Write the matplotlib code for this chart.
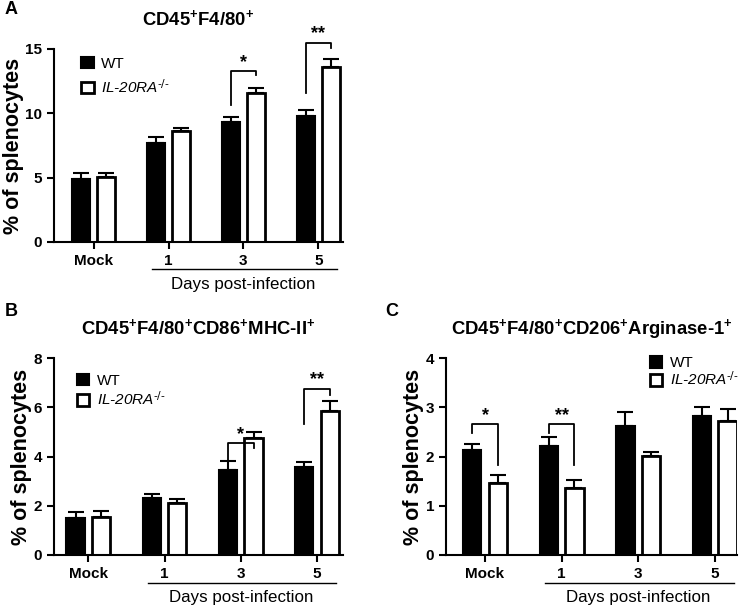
import matplotlib
matplotlib.use('Agg')
import matplotlib.pyplot as plt
import numpy as np

plt.rcParams['font.family'] = ['Liberation Sans', 'DejaVu Sans']
plt.rcParams['mathtext.default'] = 'regular'

categories = ['Mock', '1', '3', '5']

# panel A: CD45+F4/80+
a_wt = [4.9, 7.72, 9.35, 9.76]
a_wt_err = [0.45, 0.46, 0.4, 0.49]
a_ko = [5.06, 8.62, 11.59, 13.63]
a_ko_err = [0.33, 0.26, 0.41, 0.6]

# panel B: CD45+F4/80+CD86+MHC-II+
b_wt = [1.51, 2.3, 3.45, 3.58]
b_wt_err = [0.22, 0.19, 0.35, 0.18]
b_ko = [1.55, 2.12, 4.76, 5.85]
b_ko_err = [0.23, 0.16, 0.25, 0.4]

# panel C: CD45+F4/80+CD206+Arginase-1+
c_wt = [2.13, 2.21, 2.62, 2.83]
c_wt_err = [0.12, 0.19, 0.29, 0.17]
c_ko = [1.47, 1.37, 2.01, 2.72]
c_ko_err = [0.16, 0.15, 0.08, 0.24]

# significance brackets: (category index, top, left end, right end, label)
a_sig = [(2, 13.3, 10.65, 13.0, '*'), (3, 15.5, 11.55, 15.05, '**')]
b_sig = [(2, 4.53, 3.85, 4.33, '*'), (3, 6.76, 5.34, 6.49, '**')]
c_sig = [(0, 2.66, 2.47, 1.83, '*'), (1, 2.66, 2.47, 1.83, '**')]

W, H = 755, 612
BW = 0.24
OFF = 0.167


def panel(rect, wt, wt_err, ko, ko_err, sig, ymax, yticks, xlim, title,
          letter, letter_xy, leg_anchor, leg_spacing):
    l, t, r, b = rect
    ax = plt.gcf().add_axes([l / W, 1 - b / H, (r - l) / W, (b - t) / H])
    x = np.arange(len(categories))
    ax.bar(x - OFF, wt, BW, color='black', edgecolor='black', linewidth=1.5,
           label='WT', zorder=2)
    ax.bar(x + OFF, ko, BW, color='white', edgecolor='black', linewidth=2,
           label=r'IL-20RA$^{\text{-/-}}$', zorder=2)
    ax.errorbar(x - OFF, wt, yerr=[np.zeros(len(wt)), wt_err], fmt='none',
                ecolor='black', elinewidth=1.5, capsize=6, capthick=1.5, zorder=1)
    ax.errorbar(x + OFF, ko, yerr=[np.zeros(len(ko)), ko_err], fmt='none',
                ecolor='black', elinewidth=1.5, capsize=6, capthick=1.5, zorder=1)
    for i, top, yl, yr, lab in sig:
        ax.plot([i - OFF, i - OFF, i + OFF, i + OFF], [yl, top, top, yr],
                color='black', lw=1.3, clip_on=False)
        ax.text(i, top, lab, ha='center', va='bottom', fontsize=13,
                fontweight='bold')
    ax.set_ylim(0, ymax)
    ax.set_yticks(yticks)
    ax.set_xlim(*xlim)
    ax.set_xticks(x)
    ax.set_xticklabels(categories, fontweight='bold', fontsize=11)
    for lbl in ax.get_yticklabels():
        lbl.set_fontweight('bold')
        lbl.set_fontsize(11)
    ax.spines['top'].set_visible(False)
    ax.spines['right'].set_visible(False)
    ax.spines['left'].set_linewidth(1.5)
    ax.spines['bottom'].set_linewidth(1.5)
    ax.tick_params(width=1.5, length=5)
    ax.set_ylabel('% of splenocytes', fontsize=15.5, fontweight='bold', labelpad=1)
    ax.set_title(title, fontsize=13.3, fontweight='bold', pad=17)
    # Days post-infection line
    ax.plot([0.78, 3.25], [-0.14 * ymax, -0.14 * ymax], color='black', lw=1,
            clip_on=False)
    ax.text(2.0, -0.18 * ymax, 'Days post-infection', ha='center', va='top',
            fontsize=12.2)
    plt.gcf().text(letter_xy[0] / W, 1 - letter_xy[1] / H, letter,
                   fontsize=13, fontweight='bold', ha='left', va='center')
    leg = ax.legend(loc='upper left', bbox_to_anchor=leg_anchor, frameon=False,
                    fontsize=11, handlelength=0.8, handleheight=0.8,
                    handletextpad=0.5, labelspacing=leg_spacing,
                    borderaxespad=0, borderpad=0)
    leg.get_texts()[1].set_fontstyle('italic')
    return ax


fig = plt.figure(figsize=(7.55, 6.12), dpi=100)

panel((54, 49, 343, 242), a_wt, a_wt_err, a_ko, a_ko_err, a_sig, 15,
      [0, 5, 10, 15], (-0.53, 3.33), 'CD45$^{+}$F4/80$^{+}$', 'A', (5, 10),
      (0.095, 0.96), 0.45)
panel((54, 358, 343, 555), b_wt, b_wt_err, b_ko, b_ko_err, b_sig, 8,
      [0, 2, 4, 6, 8], (-0.45, 3.34), 'CD45$^{+}$F4/80$^{+}$CD86$^{+}$MHC-II$^{+}$',
      'B', (5, 311), (0.08, 0.92), 0.15)
panel((446, 358, 737, 555), c_wt, c_wt_err, c_ko, c_ko_err, c_sig, 4,
      [0, 1, 2, 3, 4], (-0.51, 3.29),
      'CD45$^{+}$F4/80$^{+}$CD206$^{+}$Arginase-1$^{+}$', 'C', (385, 312),
      (0.70, 1.01), 0.0)

fig.savefig('out.png', dpi=100)
